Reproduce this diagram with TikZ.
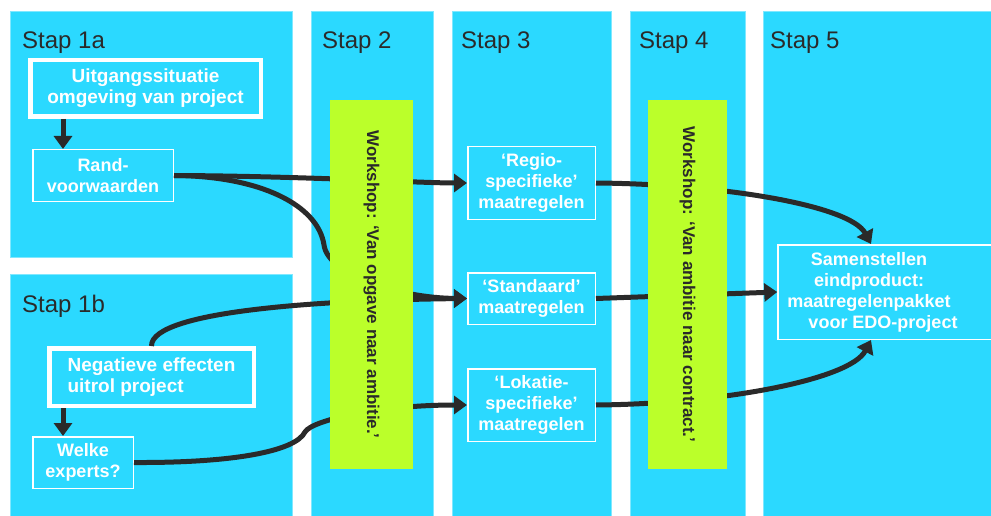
\documentclass[tikz,border=0pt]{standalone}
\usepackage{fontspec}
\setmainfont{Liberation Sans}
\usetikzlibrary{arrows.meta}
\definecolor{stapblauw}{RGB}{43,217,255}
\definecolor{workgroen}{RGB}{187,255,42}
\definecolor{pijlgrijs}{RGB}{42,42,42}
\tikzset{
  paneel/.style={fill=stapblauw,draw=stapblauw!60!white,line width=1pt},
  stapkop/.style={anchor=base west,inner sep=0pt,text=pijlgrijs,font=\fontsize{24}{28}\selectfont},
  blok/.style={draw=white,line width=1.5pt,fill=stapblauw,text=white,inner sep=0pt,
    font=\bfseries\fontsize{18}{21}\selectfont,align=center},
  dikblok/.style={blok,line width=4.5pt,font=\bfseries\fontsize{19}{21}\selectfont},
  workshop/.style={fill=workgroen,rotate=-90,inner sep=0pt,minimum width=369pt,
    minimum height=83pt,text=pijlgrijs,font=\bfseries\fontsize{17}{20}\selectfont},
  pijl/.style={draw=pijlgrijs,line width=5pt,-{Triangle[length=13pt,width=18pt]}},
}
\begin{document}
\begin{tikzpicture}[x=1pt,y=-1pt]
   \useasboundingbox (0,0) rectangle (991,516) ;
   % kolommen
   \draw[paneel] (10,12) rectangle (292,257) ;
   \draw[paneel] (10,274) rectangle (292,520) ;
   \draw[paneel] (311,12) rectangle (433,520) ;
   \draw[paneel] (452,12) rectangle (611,520) ;
   \draw[paneel] (630,12) rectangle (745,520) ;
   \draw[paneel] (763,12) rectangle (1000,520) ;
   \node[stapkop] (kop1a) at (22,49) {Stap 1a} ;
   \node[stapkop] (kop1b) at (22,312) {Stap 1b} ;
   \node[stapkop] (kop2) at (322,49) {Stap 2} ;
   \node[stapkop] (kop3) at (461,49) {Stap 3} ;
   \node[stapkop] (kop4) at (639,49) {Stap 4} ;
   \node[stapkop] (kop5) at (770,49) {Stap 5} ;
   % blokken
   \node[dikblok,minimum width=230.5pt,minimum height=56.5pt] (uitg) at (145.5,88.5)
      {Uitgangssituatie\\omgeving van project} ;
   \node[blok,minimum width=140.5pt,minimum height=51.5pt] (rand) at (103,175.5)
      {Rand-\\voorwaarden} ;
   \node[dikblok,minimum width=204.5pt,minimum height=57.5pt,align=left] (neg) at (151.5,377)
      {Negatieve effecten\\uitrol project} ;
   \node[blok,minimum width=100.5pt,minimum height=51.5pt] (welke) at (83,462.5)
      {Welke\\experts?} ;
   \node[blok,minimum width=127.5pt,minimum height=72.5pt] (regio) at (531.5,183)
      {‘Regio-\\specifieke’\\maatregelen} ;
   \node[blok,minimum width=127.5pt,minimum height=51.5pt] (standaard) at (531.5,298.5)
      {‘Standaard’\\maatregelen} ;
   \node[blok,minimum width=127.5pt,minimum height=72.5pt] (lokatie) at (531.5,405)
      {‘Lokatie-\\specifieke’\\maatregelen} ;
   \node[blok,minimum width=220pt,minimum height=94.5pt] (samen) at (888,292) {} ;
   \node[text=white,font=\bfseries\fontsize{18}{21}\selectfont,align=center] (samentekst) at (869,292)
      {Samenstellen\\eindproduct:\\maatregelenpakket\\\hspace*{28pt}voor EDO-project} ;
   % pijlen
   \draw[pijl] ([xshift=-82.5pt]uitg.south) -- ([xshift=-40pt]rand.north) ;
   \draw[pijl] ([xshift=-88.5pt]neg.south) -- ([xshift=-20pt]welke.north) ;
   \draw[pijl] (rand.east) .. controls (300,176) and (420,183) .. (regio.west) ;
   \draw[pijl] (rand.east) .. controls (260,176) and (318,205) .. (324,245)
      .. controls (328,275) and (400,298) .. (standaard.west) ;
   \draw[pijl] (neg.north) .. controls (151,310) and (330,300) .. (standaard.west) ;
   \draw[pijl] (welke.east) .. controls (230,463) and (295,452) .. (305,432)
      .. controls (312,420) and (380,405) .. (lokatie.west) ;
   \draw[pijl] (regio.east) .. controls (720,184) and (850,205) .. ([xshift=-17pt]samen.north) ;
   \draw[pijl] (standaard.east) -- (samen.west) ;
   \draw[pijl] (lokatie.east) .. controls (720,404) and (850,380) .. ([xshift=-17pt]samen.south) ;
   % workshops
   \node[workshop] (ws1) at (371.5,284.5) {Workshop: ‘Van opgave naar ambitie.’} ;
   \node[workshop,minimum height=79pt] (ws2) at (687.5,284.5) {Workshop: ‘Van ambitie naar contract.’} ;
\end{tikzpicture}
\end{document}
